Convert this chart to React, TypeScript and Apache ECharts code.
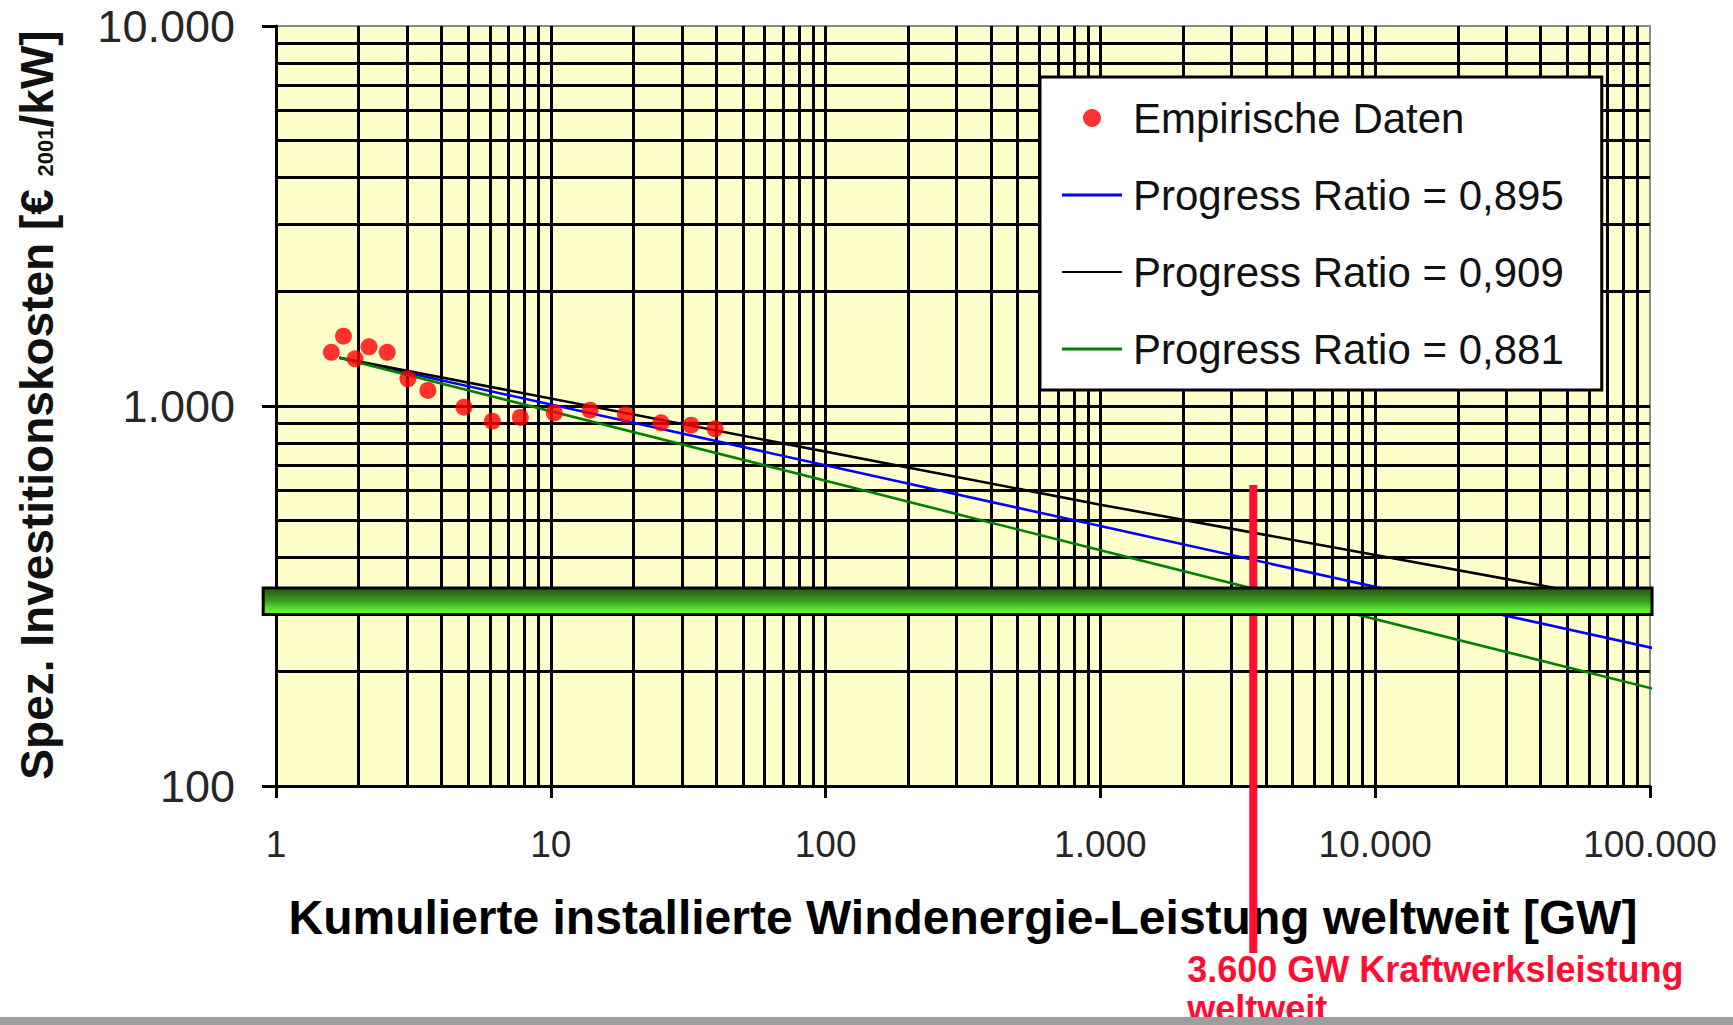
import React, { useEffect, useRef } from 'react';
import * as echarts from 'echarts';

const FONT = "'Liberation Sans', Arial, Helvetica, sans-serif";

// Axis tick labels (German number format)
const X_TICK_LABELS = ['1', '10', '100', '1.000', '10.000', '100.000'];
const Y_TICK_LABELS = ['100', '1.000', '10.000'];

// Logarithmic grid lines between the borders
const X_GRID = [
  2, 3, 4, 5, 6, 7, 8, 9, 10,
  20, 30, 40, 50, 60, 70, 80, 90, 100,
  200, 300, 400, 500, 600, 700, 800, 900, 1000,
  2000, 3000, 4000, 5000, 6000, 7000, 8000, 9000, 10000,
  20000, 30000, 40000, 50000, 60000, 70000, 80000, 90000,
];
const Y_GRID = [200, 300, 400, 500, 600, 700, 800, 900, 1000, 2000, 3000, 4000, 5000, 6000, 7000, 8000, 9000];

// Empirical data: cumulative capacity [GW] and specific investment cost [EUR2001/kW]
const EMP_X = [1.59, 1.76, 1.94, 2.18, 2.54, 3.02, 3.57, 4.83, 6.13, 7.75, 10.3, 13.9, 18.7, 25.2, 32.4, 39.6];
const EMP_Y = [1384, 1527, 1331, 1431, 1384, 1179, 1099, 993, 912, 933, 959, 975, 950, 903, 890, 871];

// Experience curves
const CURVE_X = [1.7, 1000, 110000];
const PR_0895 = [1340, 483, 228];
const PR_0909 = [1340, 550, 295];
const PR_0881 = [1340, 417, 178];

const SERIES_NAMES = [
  'Empirische Daten',
  'Progress Ratio = 0,895',
  'Progress Ratio = 0,909',
  'Progress Ratio = 0,881',
];

// Annotations
const PLANT_CAPACITY_GW = 3600;
const PLANT_MARKER_TOP = 620;
const TARGET_COST_BAND = [280, 335];
const TARGET_COST_SPAN = [0.887, 103000];

// Legend line icons
const THICK_LINE_ICON = 'path://M0,0L60,0L60,2.8L0,2.8Z';
const THIN_LINE_ICON = 'path://M0,0L60,0L60,1.8L0,1.8Z';

const pairs = (xs: number[], ys: number[]) => xs.map((x, i) => [x, ys[i]]);

export default function App() {
  const ref = useRef<HTMLDivElement>(null);

  useEffect(() => {
    if (!ref.current) return;
    const chart = echarts.init(ref.current, null, { renderer: 'svg' });

    const curve = (name: string, ys: number[], color: string) => ({
      name,
      type: 'line',
      data: pairs(CURVE_X, ys),
      symbol: 'none',
      clip: false,
      z: 3,
      lineStyle: { color, width: 2.6 },
      itemStyle: { color },
    });

    chart.setOption({
      animation: false,
      backgroundColor: '#ffffff',
      grid: {
        left: 276,
        top: 26,
        width: 1374,
        height: 760,
        show: true,
        backgroundColor: '#FFFFCC',
        borderColor: '#8a8a8a',
        borderWidth: 2,
      },
      xAxis: {
        type: 'log',
        logBase: 10,
        min: 1,
        max: 100000,
        splitNumber: 5,
        name: 'Kumulierte installierte Windenergie-Leistung weltweit [GW]',
        nameLocation: 'middle',
        nameGap: 107,
        nameTextStyle: { fontFamily: FONT, fontSize: 48, fontWeight: 'bold', color: '#000' },
        axisLine: { show: true, lineStyle: { color: '#000', width: 3 } },
        axisTick: { show: true, length: 12, lineStyle: { color: '#000', width: 3 } },
        axisLabel: {
          margin: 40,
          fontFamily: FONT,
          fontSize: 37,
          color: '#262626',
          formatter: (v: number) => X_TICK_LABELS[Math.round(Math.log10(v))] ?? '',
        },
        splitLine: { show: false },
      },
      yAxis: {
        type: 'log',
        logBase: 10,
        min: 100,
        max: 10000,
        splitNumber: 2,
        axisLine: { show: true, lineStyle: { color: '#000', width: 3 } },
        axisTick: { show: true, length: 14, lineStyle: { color: '#000', width: 3 } },
        axisLabel: {
          margin: 41,
          fontFamily: FONT,
          fontSize: 45,
          color: '#262626',
          formatter: (v: number) => Y_TICK_LABELS[Math.round(Math.log10(v)) - 2] ?? '',
        },
        splitLine: { show: false },
      },
      legend: {
        orient: 'vertical',
        left: 1040,
        top: 77,
        z: 10,
        backgroundColor: '#ffffff',
        borderColor: '#000',
        borderWidth: 3,
        padding: [19, 38, 19, 22],
        itemGap: 33,
        itemWidth: 60,
        itemHeight: 18,
        textStyle: {
          fontFamily: FONT,
          fontSize: 42,
          lineHeight: 44,
          color: '#111',
          padding: [0, 0, 0, 6],
        },
        data: [
          { name: SERIES_NAMES[0], icon: 'circle' },
          { name: SERIES_NAMES[1], icon: THICK_LINE_ICON },
          { name: SERIES_NAMES[2], icon: THIN_LINE_ICON },
          { name: SERIES_NAMES[3], icon: THICK_LINE_ICON },
        ],
        selectedMode: false,
      },
      series: [
        {
          name: 'grid',
          type: 'line',
          data: [],
          silent: true,
          z: 1,
          markLine: {
            z: 1,
            silent: true,
            animation: false,
            symbol: ['none', 'none'],
            label: { show: false },
            lineStyle: { color: '#000', width: 3, type: 'solid' },
            emphasis: { disabled: true },
            data: [
              ...X_GRID.map((v) => ({ xAxis: v })),
              ...Y_GRID.map((v) => ({ yAxis: v })),
            ],
          },
        },
        curve(SERIES_NAMES[1], PR_0895, '#0000FF'),
        curve(SERIES_NAMES[2], PR_0909, '#000000'),
        curve(SERIES_NAMES[3], PR_0881, '#008000'),
        {
          name: SERIES_NAMES[0],
          type: 'scatter',
          data: pairs(EMP_X, EMP_Y),
          symbol: 'circle',
          symbolSize: 17,
          z: 4,
          itemStyle: { color: '#FF0000' },
        },
      ],
    });

    const px = (v: number) => chart.convertToPixel({ xAxisIndex: 0 }, v) as number;
    const py = (v: number) => chart.convertToPixel({ yAxisIndex: 0 }, v) as number;

    const lineX = px(PLANT_CAPACITY_GW);
    const lineTop = py(PLANT_MARKER_TOP);
    const bandTop = py(TARGET_COST_BAND[1]);
    const bandBottom = py(TARGET_COST_BAND[0]);
    const bandLeft = px(TARGET_COST_SPAN[0]);
    const bandRight = px(TARGET_COST_SPAN[1]);

    chart.setOption({
      graphic: [
        {
          type: 'text',
          x: 37,
          y: 405,
          rotation: Math.PI / 2,
          z: 20,
          style: {
            text: '{m|Spez. Investitionskosten [€ }{s|2001}{m|/kW]}',
            align: 'center',
            verticalAlign: 'middle',
            fill: '#111',
            rich: {
              m: { fontFamily: FONT, fontSize: 46, fontWeight: 'bold', fill: '#111' },
              s: {
                fontFamily: FONT,
                fontSize: 22,
                fontWeight: 'bold',
                fill: '#111',
                verticalAlign: 'bottom',
                padding: [0, 0, 4, 0],
              },
            },
          },
        },
        {
          type: 'rect',
          z: 18,
          shape: { x: lineX - 4, y: lineTop, width: 8, height: 953 - lineTop },
          style: { fill: '#FF0D33' },
        },
        {
          type: 'rect',
          z: 19,
          shape: {
            x: bandLeft + 1.5,
            y: bandTop + 1.5,
            width: bandRight - bandLeft - 3,
            height: bandBottom - bandTop - 3,
          },
          style: {
            fill: new echarts.graphic.LinearGradient(0, 0, 0, 1, [
              { offset: 0, color: '#265C14' },
              { offset: 0.25, color: '#2F751A' },
              { offset: 0.5, color: '#3E9C22' },
              { offset: 0.75, color: '#58DC2D' },
              { offset: 1, color: '#66FF33' },
            ]),
            stroke: '#000',
            lineWidth: 3,
          },
        },
        {
          type: 'text',
          x: lineX - 66,
          y: 950,
          z: 20,
          style: {
            text: '3.600 GW Kraftwerksleistung\nweltweit',
            fontFamily: FONT,
            fontSize: 36,
            fontWeight: 'bold',
            lineHeight: 39,
            fill: '#FF0D33',
            align: 'left',
            verticalAlign: 'top',
          },
        },
        {
          type: 'rect',
          z: 21,
          shape: { x: 0, y: 1017, width: 1733, height: 8 },
          style: { fill: '#9E9E9E' },
        },
      ],
    });

    return () => chart.dispose();
  }, []);

  return (
    <div
      ref={ref}
      style={{ position: 'absolute', left: 0, top: 0, width: 1733, height: 1025 }}
    />
  );
}
